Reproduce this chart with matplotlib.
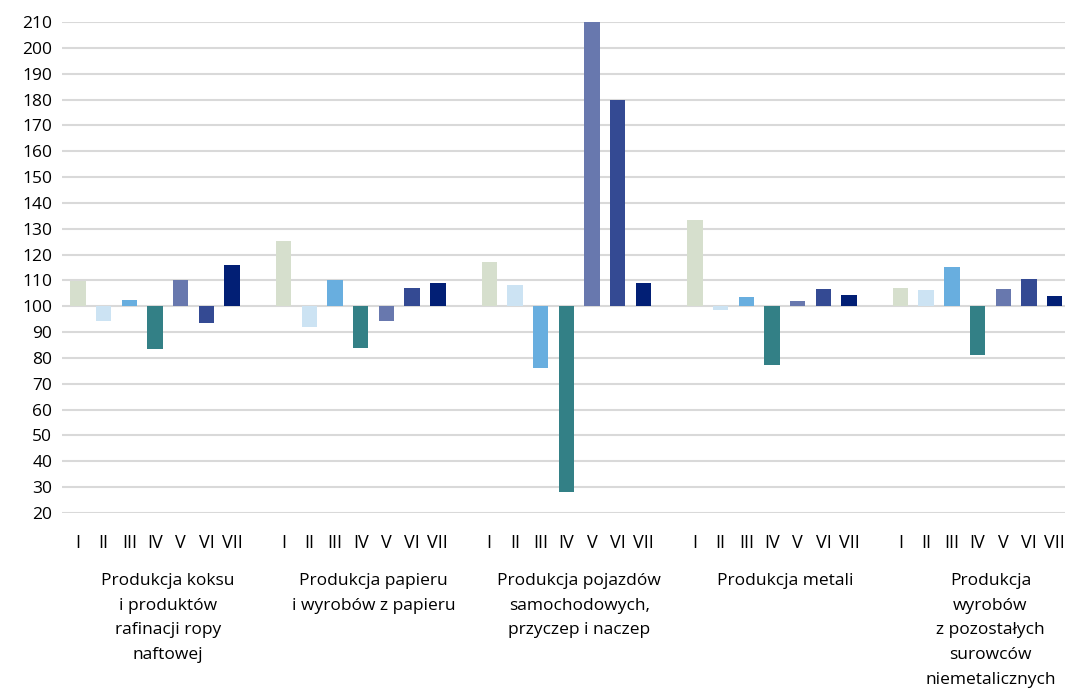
import numpy as np
import matplotlib
matplotlib.use("Agg")
import matplotlib.pyplot as plt

plt.rcParams['font.family'] = ['Open Sans', 'DejaVu Sans']

months = ["I", "II", "III", "IV", "V", "VI", "VII"]
groups = ["Produkcja koksu\ni produktów\nrafinacji ropy\nnaftowej",
          "Produkcja papieru\ni wyrobów z papieru",
          "Produkcja pojazdów\nsamochodowych,\nprzyczep i naczep",
          "Produkcja metali",
          "Produkcja\nwyrobów\nz pozostałych\nsurowców\nniemetalicznych"]

koks = [109.8, 94.3, 102.3, 83.5, 110.0, 93.4, 115.9]
papier = [125.2, 92.0, 110.0, 83.9, 94.3, 107.0, 109.0]
pojazdy = [117.0, 108.1, 76.0, 28.0, 210.0, 179.8, 108.9]
metale = [133.3, 98.6, 103.5, 77.2, 102.0, 106.6, 104.3]
niemetal = [107.0, 106.2, 115.1, 81.0, 106.6, 110.4, 103.9]
values = [koks, papier, pojazdy, metale, niemetal]

colors = ["#D6DFCD", "#CCE3F3", "#68AEDF", "#338086", "#6878AE", "#344A93", "#021F75"]

fig = plt.figure(figsize=(10.69, 6.93), dpi=100)
ax = fig.add_axes([62/1069, 1 - 513/693, (1065 - 62)/1069, (513 - 22)/693])

xs = []
xlabels = []
for g, vals in enumerate(values):
    for i, v in enumerate(vals):
        x = g * 8 + i
        ax.bar(x, v - 100, bottom=100, width=0.6, color=colors[i], zorder=3)
        xs.append(x)
        xlabels.append(months[i])

ax.set_xlim(-0.62, 38.4)
ax.set_ylim(20, 210)
ax.set_yticks(np.arange(20, 211, 10))
ax.set_xticks(xs)
ax.set_xticklabels(xlabels, fontsize=13)
ax.tick_params(axis='y', length=0, labelsize=12.5, pad=7)
ax.tick_params(axis='x', length=0, pad=15)
ax.grid(axis='y', color='#D9D9D9', linewidth=1.5, zorder=0)
for s in ax.spines.values():
    s.set_visible(False)

for g, name in enumerate(groups):
    ax.text(g * 8 + 3.5, -0.122, name, transform=ax.get_xaxis_transform(),
            ha='center', va='top', fontsize=12.5, linespacing=1.73)

plt.savefig("out.png", dpi=100)
